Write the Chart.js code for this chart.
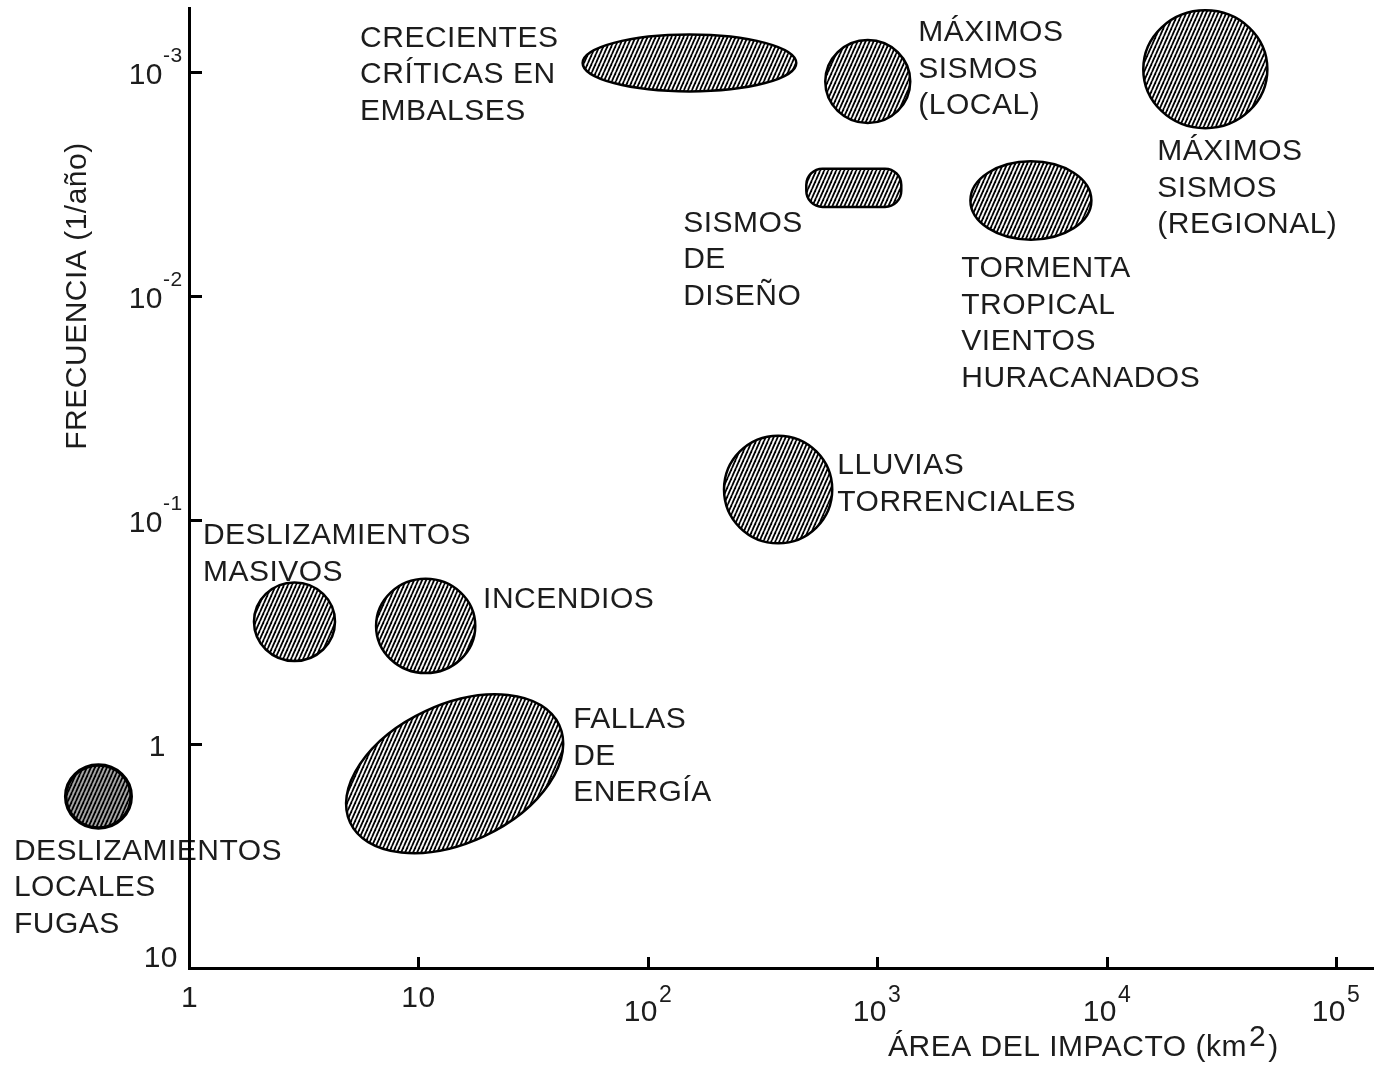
<!DOCTYPE html>
<html>
<head>
<meta charset="utf-8">
<script src="https://cdn.jsdelivr.net/npm/chart.js@4/dist/chart.umd.min.js"></script>
<style>
  html, body { margin: 0; padding: 0; background: #fff; }
  #wrap { width: 1374px; height: 1069px; position: relative; }
</style>
</head>
<body>
<div id="wrap"><canvas id="riskChart"></canvas></div>
<script>
// Hazard regions: area of impact (km2) vs frequency (1/year)
const hazards = [
    "Crecientes críticas en embalses", "Máximos sismos (local)", "Máximos sismos (regional)",
    "Sismos de diseño", "Tormenta tropical", "Lluvias torrenciales",
    "Deslizamientos masivos", "Incendios", "Fallas de energía", "Deslizamientos locales"
];
const areaLow  = [52,   594,   14460, 491,    2550,   215,   1.92,  6.54,  4.84, 0.29];
const areaHigh = [444,  1394,  50250, 1274,   8590,   637,   4.33,  17.7,  42.8, 0.56];
const freqLow  = [6.8e-4, 7.2e-4, 5.3e-4, 2.7e-3, 2.5e-3, 0.042, 0.19,  0.183, 0.60, 1.24];
const freqHigh = [1.22e-3, 1.69e-3, 1.78e-3, 4.0e-3, 5.6e-3, 0.127, 0.426, 0.482, 3.07, 2.37];

// text next to each region, anchored in data units (first line)
const labelLines = [
    ["CRECIENTES", "CRÍTICAS EN", "EMBALSES"],
    ["MÁXIMOS", "SISMOS", "(LOCAL)"],
    ["MÁXIMOS", "SISMOS", "(REGIONAL)"],
    ["SISMOS", "DE", "DISEÑO"],
    ["TORMENTA", "TROPICAL", "VIENTOS", "HURACANADOS"],
    ["LLUVIAS", "TORRENCIALES"],
    ["DESLIZAMIENTOS", "MASIVOS"],
    ["INCENDIOS"],
    ["FALLAS", "DE", "ENERGÍA"],
    ["DESLIZAMIENTOS", "LOCALES", "FUGAS"]
];
const labelArea = [5.57, 1511, 16650, 142.7, 2327, 670, 1.15, 19.15, 47.3, 0.1725];
const labelFreq = [6.9e-4, 6.49e-4, 2.21e-3, 4.62e-3, 7.35e-3, 0.0557, 0.1143, 0.2208, 0.758, 2.94];

// axis ticks
const xTicks = [1, 10, 100, 1000, 10000, 100000];
const xTickBase = ["1", "10", "10", "10", "10", "10"];
const xTickExp = ["", "", "2", "3", "4", "5"];
const yTicks = [0.001, 0.01, 0.1, 1, 10];
const yTickBase = ["10", "10", "10", "1", "10"];
const yTickExp = ["-3", "-2", "-1", "", ""];

// shape look
const shapeKind = ["ellipse", "ellipse", "ellipse", "pill", "ellipse", "ellipse", "ellipse", "ellipse", "ellipse", "ellipse"];
const shapeTilt = [0, 0, 0, 0, 0, 0, 0, 0, 25, 0];
const FONT = '"Liberation Sans", Arial, sans-serif';
const INK = "#1c1c1c";

function makeHatch() {
    const c = document.createElement("canvas");
    c.width = 4; c.height = 9;
    const g = c.getContext("2d");
    g.strokeStyle = "#000";
    g.lineWidth = 1.8;
    for (const dx of [-4, 0, 4]) {
        g.beginPath();
        g.moveTo(dx, 9);
        g.lineTo(dx + 4, 0);
        g.stroke();
    }
    return c;
}
const hatchTile = makeHatch();

const hazardPlugin = {
    id: "hazards",
    beforeDraw(chart) {
        const { ctx, scales: { x, y } } = chart;
        const hatch = ctx.createPattern(hatchTile, "repeat");
        ctx.save();
        for (let i = 0; i < hazards.length; i++) {
            const x1 = x.getPixelForValue(areaLow[i]), x2 = x.getPixelForValue(areaHigh[i]);
            const y1 = y.getPixelForValue(freqLow[i]), y2 = y.getPixelForValue(freqHigh[i]);
            const cx = (x1 + x2) / 2, cy = (y1 + y2) / 2;
            const W = Math.abs(x2 - x1) / 2, H = Math.abs(y2 - y1) / 2;
            ctx.beginPath();
            if (shapeKind[i] === "pill") {
                ctx.roundRect(cx - W, cy - H, 2 * W, 2 * H, H * 0.85);
            } else if (shapeTilt[i]) {
                // fit a rotated ellipse inside the box
                const t = shapeTilt[i] * Math.PI / 180;
                const c2 = Math.cos(t) ** 2, s2 = Math.sin(t) ** 2, k = Math.cos(2 * t);
                const a = Math.sqrt((W * W * c2 - H * H * s2) / k);
                const b = Math.sqrt((H * H * c2 - W * W * s2) / k);
                ctx.ellipse(cx, cy, a, b, -t, 0, Math.PI * 2);
            } else {
                ctx.ellipse(cx, cy, W, H, 0, 0, Math.PI * 2);
            }
            ctx.fillStyle = i === 9 ? "#a8a8a8" : "#fff";
            ctx.fill();
            ctx.fillStyle = hatch;
            ctx.fill();
            ctx.lineWidth = i === 9 ? 3.5 : 2.5;
            ctx.strokeStyle = "#000";
            ctx.stroke();
        }

        ctx.fillStyle = INK;
        ctx.font = "30px " + FONT;
        ctx.letterSpacing = "0.5px";
        ctx.textAlign = "left";
        ctx.textBaseline = "alphabetic";
        for (let i = 0; i < labelLines.length; i++) {
            const lx = x.getPixelForValue(labelArea[i]);
            const ly = y.getPixelForValue(labelFreq[i]);
            labelLines[i].forEach((line, j) => ctx.fillText(line, lx, ly + 11 + j * 36.5));
        }
        ctx.restore();
    },
    afterDraw(chart) {
        const { ctx, chartArea: area, scales: { x, y } } = chart;
        ctx.save();
        ctx.fillStyle = INK;
        ctx.strokeStyle = "#000";
        ctx.lineWidth = 3;
        ctx.letterSpacing = "0.5px";
        ctx.textBaseline = "alphabetic";

        // x ticks and labels
        xTicks.forEach((v, i) => {
            const px = Math.round(x.getPixelForValue(v)) + 0.5;
            if (i > 0) {
                ctx.beginPath();
                ctx.moveTo(px, area.bottom);
                ctx.lineTo(px, area.bottom - 11);
                ctx.stroke();
            }
            ctx.font = "30px " + FONT;
            const bw = ctx.measureText(xTickBase[i]).width;
            if (!xTickExp[i]) {
                ctx.textAlign = "center";
                ctx.fillText(xTickBase[i], px, 1007);
            } else {
                ctx.font = "23px " + FONT;
                const ew = ctx.measureText(xTickExp[i]).width;
                const left = px - (bw + ew + 2) / 2;
                ctx.textAlign = "left";
                ctx.font = "30px " + FONT;
                ctx.fillText(xTickBase[i], left, 1021);
                ctx.font = "23px " + FONT;
                ctx.fillText(xTickExp[i], left + bw + 1, 1002);
            }
        });

        // y ticks and labels
        yTicks.forEach((v, i) => {
            const py = Math.round(y.getPixelForValue(v)) + 0.5;
            if (i < yTicks.length - 1) {
                ctx.beginPath();
                ctx.moveTo(area.left, py);
                ctx.lineTo(area.left + 13, py);
                ctx.stroke();
            }
            const mid = Math.min(py, area.bottom - 12);
            ctx.textAlign = "right";
            ctx.font = "30px " + FONT;
            const right = yTickExp[i] ? 163 : (i === yTicks.length - 1 ? 178 : 166);
            ctx.fillText(yTickBase[i], right, mid + 11);
            if (yTickExp[i]) {
                ctx.textAlign = "left";
                ctx.font = "21px " + FONT;
                ctx.fillText(yTickExp[i], right, mid - 11);
            }
        });

        // axis titles
        ctx.textAlign = "left";
        ctx.font = "30px " + FONT;
        const xt = "ÁREA DEL IMPACTO (km";
        ctx.fillText(xt, 888, 1056);
        const xtw = ctx.measureText(xt).width;
        ctx.fillText("2", 888 + xtw + 2, 1046);
        const tw2 = ctx.measureText("2").width;
        ctx.fillText(")", 888 + xtw + 4 + tw2, 1056);

        ctx.translate(86, 296);
        ctx.rotate(-Math.PI / 2);
        ctx.textAlign = "center";
        ctx.fillText("FRECUENCIA (1/año)", 0, 0);
        ctx.restore();
    }
};

const ctx = document.getElementById("riskChart").getContext("2d");
const riskChart = new Chart(ctx, {
    type: "scatter",
    data: {
        datasets: [{
            label: "Regiones de amenaza",
            data: hazards.map((h, i) => ({
                x: Math.sqrt(areaLow[i] * areaHigh[i]),
                y: Math.sqrt(freqLow[i] * freqHigh[i])
            })),
            pointRadius: 0
        }]
    },
    options: {
        responsive: true,
        maintainAspectRatio: false,
        animation: false,
        layout: { padding: { left: 189, top: 8, right: 0, bottom: 101 } },
        plugins: { legend: { display: false }, tooltip: { enabled: false } },
        scales: {
            x: {
                type: "logarithmic",
                min: 1,
                max: Math.pow(10, 5.166),
                grid: { display: false, drawTicks: false },
                border: { display: true, color: "#000", width: 3 },
                ticks: { display: false }
            },
            y: {
                type: "logarithmic",
                reverse: true,
                min: Math.pow(10, -3.286),
                max: 10,
                grid: { display: false, drawTicks: false },
                border: { display: true, color: "#000", width: 3 },
                ticks: { display: false }
            }
        }
    },
    plugins: [hazardPlugin]
});
</script>
</body>
</html>
